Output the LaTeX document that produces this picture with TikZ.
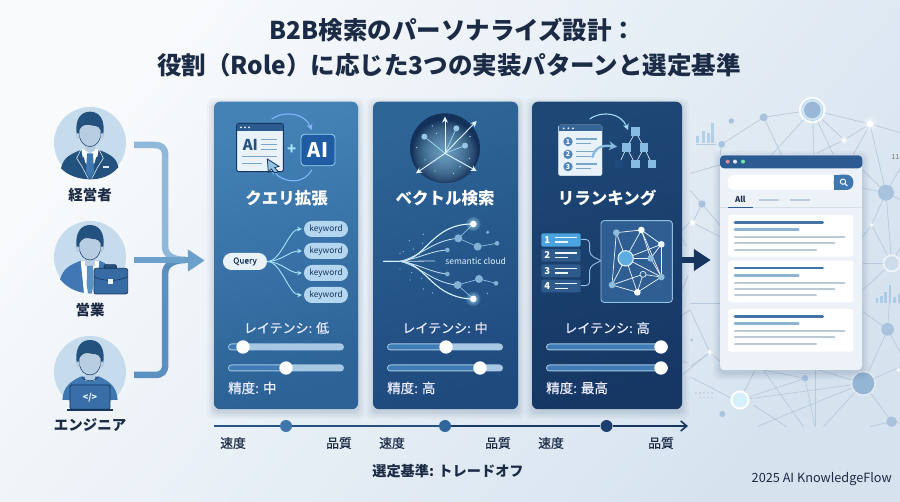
\documentclass[tikz,border=0pt]{standalone}
\usepackage{fontspec}
\setmainfont{Noto Sans CJK JP}
\newfontfamily\medfont[FakeBold=0.35]{Noto Sans CJK JP}
\usetikzlibrary{arrows.meta,calc,shapes.geometric}
\newcommand\fsz[1]{\fontsize{#1}{#1}\selectfont}
\definecolor{navyd}{HTML}{16365F}
\definecolor{navym}{HTML}{24527F}
\definecolor{inkd}{HTML}{1C2B45}
\definecolor{bluem}{HTML}{3F78B0}
\definecolor{bluel}{HTML}{8FBBDD}
\definecolor{cyanl}{HTML}{A6E2F8}
\definecolor{facec}{HTML}{B7CDE1}
\definecolor{circc}{HTML}{C6DCEC}
\definecolor{netl}{HTML}{B8CADB}
\definecolor{netn}{HTML}{A9C3DE}
\definecolor{trackc}{HTML}{A6C8E3}
\definecolor{trackf}{HTML}{3F7CB5}
\definecolor{glin}{HTML}{BCC9D6}
\definecolor{bgA}{HTML}{F8FAFC}
\definecolor{bgB}{HTML}{D6E3EF}
\definecolor{pAa}{HTML}{4482B6}
\definecolor{pAb}{HTML}{2C6296}
\definecolor{pBa}{HTML}{2E6597}
\definecolor{pBb}{HTML}{1F4A7E}
\definecolor{pCa}{HTML}{1E4776}
\definecolor{pCb}{HTML}{163764}
\definecolor{linkA}{HTML}{8FB8D9}
\definecolor{linkB}{HTML}{6D9FCB}
\definecolor{linkC}{HTML}{5B8FC0}
\definecolor{winhead}{HTML}{2C5B91}
\definecolor{docbg}{HTML}{E9F1F9}
\definecolor{aibox}{HTML}{1F5CA4}
\definecolor{rowA}{HTML}{4AA3DF}
\definecolor{rowB}{HTML}{2E5A8C}
\definecolor{netbox}{HTML}{2F5F92}
\definecolor{treeA}{HTML}{86BCE2}
\definecolor{kwb}{HTML}{B5D6EF}
\definecolor{barA}{HTML}{4474A6}
\definecolor{barB}{HTML}{8AB4D4}
\definecolor{suitB}{HTML}{3F78B4}
\definecolor{dotA}{HTML}{3D77AB}
\definecolor{dotB}{HTML}{2F669C}
\definecolor{dotC}{HTML}{1D3F6F}
\definecolor{cloudcol}{HTML}{DDF3FC}
\tikzset{
  zm/.style 2 args={shift={(#1,#2)},x=.33333pt,y=-.33333pt},
  panelbox/.style={draw=none,rounded corners=6pt,inner sep=0pt,minimum height=307.5pt},
  usercirc/.style={circle,fill=circc,inner sep=0pt,minimum size=72pt},
  ptitle/.style={text=white,font=\fsz{16.5}\bfseries,inner sep=0pt},
  mlabel/.style={text=white!93!blue,font=\fsz{13.5}\medfont,inner sep=0pt},
  ulabel/.style={text=inkd,font=\fsz{14.5}\bfseries,inner sep=0pt},
  tlabel/.style={text=inkd,font=\fsz{12.8}\medfont,inner sep=0pt},
  kwpill/.style={rounded corners=7.9pt,fill=#1,minimum width=44pt,minimum height=16pt,inner sep=0pt,text=navyd,font=\fsz{8.3}},
  flow/.style={draw=cyanl,line width=.9pt,-{Stealth[length=4.5pt,width=4.5pt]},shorten >=2pt},
  arcarrow/.style={draw=#1,line width=1.1pt,-{Stealth[length=6pt,width=6pt]}},
  netline/.style={draw=netl,line width=.7pt},
  rowbox/.style={rounded corners=1.5pt,fill=#1},
  axisdot/.style={circle,fill=#1,inner sep=0pt,minimum size=12pt},
}
\newcommand\uislider[4]{%
  \fill[trackc,rounded corners=3.5pt] (#1,#3-3.5) rectangle (#2,#3+3.5);
  \fill[trackf,rounded corners=2.5pt] (#1+1,#3-2.5) rectangle (#4,#3+2.5);
  \fill[white] (#4,#3) circle[radius=6.7];
}
\newcommand\glowdot[4]{%
  \foreach \gg in {2.2,1.9,1.6,1.35}{\fill[#4,opacity=.14] (#1,#2) circle[radius=\gg*#3];}
  \fill[white] (#1,#2) circle[radius=#3];
}
\newcommand\userhead{%
  \fill[facec] (-15,0) rectangle (15,28);
  \fill[navym] (-39,-22) .. controls (-48,-75) and (-25,-95) .. (0,-95) .. controls (25,-95) and (48,-75) .. (39,-22) -- (32,-18) -- (-32,-18) -- cycle;
  \filldraw[fill=facec,draw=navyd,line width=.5pt] (-33,-40) .. controls (-28,-52) and (-15,-60) .. (-2,-56) .. controls (10,-52) and (25,-58) .. (33,-40) .. controls (35,-5) and (15,10) .. (0,10) .. controls (-15,10) and (-35,-5) .. (-33,-40) -- cycle;
  \fill[facec] (-36,-22) ellipse[x radius=5,y radius=9];
  \fill[facec] (36,-22) ellipse[x radius=5,y radius=9];
}
\newcommand\softshadow[4]{%
  \foreach \ss in {7,5,3.5,2,1}{\fill[navyd,opacity=.03,rounded corners=6pt] (#1-\ss,#2-\ss+3) rectangle (#3+\ss,#4+\ss+3);}
}
\begin{document}
\begin{tikzpicture}[x=1pt,y=-1pt]
\useasboundingbox (0,0) rectangle (900,502);
\shade[top color=bgA,bottom color=bgB,shading angle=50] (-1,-1) rectangle (901,503);

% ---------- background network ----------
\begin{scope}[zm={690}{90}]
  \foreach \a/\b/\c/\d in {367/60/540/102,367/60/221/82,367/60/245/195,367/60/372/195,367/60/430/195,367/60/462/150,540/102/462/150,540/102/490/195,540/102/588/308,540/102/632/128,221/82/95/163,221/82/275/195,95/163/90/195,462/150/380/190,0/250/90/225,36/342/0/300,36/342/8/398,36/342/90/405,8/398/90/440,588/308/518/240,588/308/518/295,588/308/545/405,588/308/632/330,588/308/632/232,588/308/605/520,545/405/605/520,545/405/518/440,605/520/518/520,605/520/518/600,605/520/632/470,593/718/518/665,593/718/600/610,593/718/520/880,593/718/632/790,520/880/385/840,520/880/150/930,520/880/200/1010,520/880/605/995,520/880/400/1010,520/880/632/830,150/930/195/840,150/930/345/865,345/865/220/840,345/865/375/1010,220/840/340/1010,375/840/375/1010,0/660/60/787,60/787/0/830,60/787/120/840,0/860/125/925,190/945/290/1010,605/995/632/1000,605/995/540/1010,0/640/90/640}{
    \draw[netline] (\a,\b) -- (\c,\d);
  }
  \foreach \a/\b/\c/\d in {-45/445/0/395,-60/380/-10/470,-40/640/-5/555,-60/700/0/660,-55/800/-5/820,-30/860/60/787,-70/430/-30/480}{
    \draw[netline] (\a,\b) -- (\c,\d);
  }
  \foreach \x/\y/\r in {221/82/12,124/93/8,95/163/10,36/342/11,588/308/24,593/718/19,345/865/10,97/972/9,605/995/16}{
    \fill[netn] (\x,\y) circle[radius=\r];
  }
  \fill[white,opacity=.8] (367,60) circle[radius=40];
  \fill[netn!55!cyanl] (367,60) circle[radius=33];
  \fill[white,opacity=.5] (367,60) circle[radius=31];
  \fill[netn!85!bluem] (367,60) circle[radius=25];
  \foreach \x/\y/\r in {540/102/10,462/150/6,545/405/4,8/398/6,60/787/5,625/840/4}{\glowdot{\x}{\y}{\r}{white}}
  \fill[white,opacity=.6] (605,520) circle[radius=27];
  \fill[facec!70] (605,520) circle[radius=21];
  \fill[white,opacity=.35] (520,880) circle[radius=38];
  \fill[bluem!55] (520,880) circle[radius=33];
  \fill[white,opacity=.9] (150,930) circle[radius=29];
  \fill[cyanl!50!white] (150,930) circle[radius=22];
  \fill[netl!80!bluem] (5,750) circle[radius=4];
  \foreach \x/\y in {24/138,41/122,57/130,69/100}{\fill[bluel!70!white] (\x-5,158) rectangle (\x+3,\y);}
  \draw[netline] (18,162) -- (78,162);
  \foreach \x/\y in {561/625,575/618,587/605,601/585,614/620,627/612}{\fill[bluel!75!white] (\x-4,640) rectangle (\x+3,\y);}
  \foreach \x in {18,30,42,54,66}{\fill[netl] (\x,909) circle[radius=2.4];}
  \foreach \x in {30,42,54,66}{\fill[netl] (\x,923) circle[radius=2.4];}
  \node[text=black!55,font=\fsz{7},inner sep=0pt] (nbr) at (616,202) {11};
\end{scope}

% ---------- title ----------
\node[text=inkd,font=\fsz{24.5}\bfseries,inner sep=0pt] (title1) at (453,30) {B2B検索のパーソナライズ設計：};
\node[text=inkd,font=\fsz{24.5}\bfseries,inner sep=0pt] (title2) at (449,65) {役割（Role）に応じた3つの実装パターンと選定基準};

% ---------- panels ----------
\softshadow{214}{102}{358}{409}
\softshadow{373}{102}{518}{409}
\softshadow{532}{102}{682}{409}
\node[panelbox,minimum width=144pt,top color=pAa,bottom color=pAb,shading angle=15] (p1) at (286,255.5) {};
\node[panelbox,minimum width=145pt,top color=pBa,bottom color=pBb,shading angle=15] (p2) at (445.5,255.5) {};
\node[panelbox,minimum width=150pt,top color=pCa,bottom color=pCb,shading angle=15] (p3) at (607,255.5) {};

% ---------- users ----------
\node[usercirc] (u1) at (90,143) {};
\node[usercirc] (u2) at (90,257) {};
\node[usercirc] (u3) at (90,372) {};
\begin{scope}[zm={0}{90}]
  \begin{scope}[shift={(270,160)}]
    \fill[navym] (-87,75) .. controls (-80,45) and (-65,35) .. (-28,20) -- (28,20) .. controls (65,35) and (80,45) .. (85,72) .. controls (60,100) and (30,108) .. (0,108) .. controls (-30,108) and (-65,98) .. (-87,75) -- cycle;
    \fill[white] (-24,18) -- (24,18) -- (14,58) -- (0,75) -- (-14,58) -- cycle;
    \userhead
    \fill[white] (-26,16) -- (0,30) -- (26,16) -- (22,42) -- (0,32) -- (-22,42) -- cycle;
    \fill[bluem] (-9,30) -- (9,30) -- (12,85) -- (0,106) -- (-12,85) -- cycle;
    \draw[white!70!bluel,line width=.6pt] (-27,18) -- (-40,45) -- (-25,68) -- (-5,106);
    \draw[white!70!bluel,line width=.6pt] (27,18) -- (40,45) -- (25,68) -- (5,106);
    \fill[white!70!bluel] (40,68) rectangle (58,74);
  \end{scope}
  \begin{scope}[shift={(270,500)}]
    \fill[suitB] (-90,68) .. controls (-80,35) and (-60,25) .. (-28,12) -- (28,12) .. controls (50,20) and (70,35) .. (85,75) .. controls (60,100) and (30,110) .. (0,110) .. controls (-30,110) and (-65,98) .. (-90,68) -- cycle;
    \fill[white] (-28,12) -- (28,12) -- (18,110) -- (-18,110) -- cycle;
    \userhead
    \fill[suitB!75!cyanl] (-9,28) -- (9,28) -- (10,85) -- (6,110) -- (-6,110) -- (-10,85) -- cycle;
    \draw[fill=navym,draw=navyd,line width=.6pt,rounded corners=1.5pt] (42,36) rectangle (80,24);
    \filldraw[fill=suitB!80!navyd,draw=navyd,line width=.7pt,rounded corners=2pt] (12,35) rectangle (113,112);
    \draw[navyd,line width=.6pt] (12,60) .. controls (40,75) and (85,75) .. (113,60);
    \fill[white!85!bluel] (55,68) rectangle (70,82);
  \end{scope}
  \begin{scope}[shift={(270,845)}]
    \fill[bluem] (-83,85) .. controls (-80,45) and (-60,30) .. (-28,15) -- (28,15) .. controls (60,30) and (80,45) .. (83,85) -- cycle;
    \userhead
    \draw[navyd,line width=.6pt] (-25,15) .. controls (-15,32) and (15,32) .. (25,15);
    \filldraw[fill=suitB!85!navyd,draw=navyd,line width=.8pt,rounded corners=1.5pt] (-60,40) rectangle (60,113);
    \draw[navyd,line width=1.2pt] (-68,115) -- (68,115);
    \node[text=white!90!cyanl,font=\fsz{9}\bfseries,inner sep=0pt] (codetag) at (0,78) {</>};
  \end{scope}
\end{scope}
\node[ulabel] (lu1) at (90,195) {経営者};
\node[ulabel] (lu2) at (90,310) {営業};
\node[ulabel] (lu3) at (90,425) {エンジニア};

% connectors users -> panel 1
\draw[linkA,line width=6.5pt] ($(u1.east)+(8,2)$) -- ++(20,0) .. controls +(8,0) and +(0,-8) .. ++(11,11) -- ++(0,91) .. controls +(0,8) and +(-12,0) .. ++(20,13);
\draw[linkC,line width=6.5pt] ($(u3.east)+(8,3)$) -- ++(20,0) .. controls +(8,0) and +(0,8) .. ++(11,-11) -- ++(0,-91) .. controls +(0,-8) and +(-12,0) .. ++(20,-13);
\draw[linkB,line width=6pt,-{Triangle[length=17pt,width=21pt]},shorten >=9pt] ($(u2.east)+(8,3.5)$) -- ($(p1.west)+(0,5)$);

% ---------- panel 1 ----------
\node[ptitle] (t1) at (286.5,198) {クエリ拡張};
\begin{scope}[zm={210}{95}]
  \draw[arcarrow=cyanl!80!blue] (185,72) .. controls (225,45) and (285,55) .. (305,105);
  \draw[arcarrow=cyanl!80!blue] (305,225) .. controls (280,270) and (220,265) .. (185,222);
  \filldraw[fill=docbg,draw=navyd,line width=.9pt,rounded corners=1.5pt] (80,85) rectangle (220,230);
  \fill[winhead] (81,86) rectangle (219,108);
  \foreach \x in {93,105,117}{\fill[white!85!bluel] (\x,97) circle[radius=3];}
  \node[text=navym,font=\fsz{15}\bfseries,inner sep=0pt] (ai1) at (121,149) {AI};
  \foreach \y in {133,148,163}{\draw[bluel!80!navym,line width=1.2pt] (152,\y) -- (202,\y);}
  \foreach \y/\e in {185/200,205/155}{\draw[bluel!80!navym,line width=1.2pt] (97,\y) -- (\e,\y);}
  \filldraw[fill=bluel!80!cyanl,draw=navyd,line width=.8pt] (172,192) -- (175,232) -- (184,222) -- (194,234) -- (204,229) -- (194,218) -- (207,214) -- cycle;
  \node[text=cyanl,font=\fsz{15}\bfseries,inner sep=0pt] (plus) at (245,165) {+};
  \filldraw[fill=aibox,draw=cyanl!60!bluel,line width=.8pt,rounded corners=3.5pt] (273,118) rectangle (375,212);
  \node[text=white,font=\fsz{20}\bfseries,inner sep=0pt] (ai2) at (324,164) {AI};
\end{scope}
\node[rounded corners=8.4pt,fill=docbg,minimum width=44pt,minimum height=17pt,inner sep=0pt,text=navyd,font=\fsz{8.3}\medfont] (q) at (245,261.5) {Query};
\node[kwpill=kwb] (k1) at (326,229) {keyword};
\node[kwpill=kwb] (k2) at (326,251) {keyword};
\node[kwpill=kwb] (k3) at (326,273) {keyword};
\node[kwpill=kwb] (k4) at (326,295) {keyword};
\foreach \k in {k1,k2,k3,k4}{\draw[flow] (q.east) .. controls +(14,0) and +(-15,0) .. (\k.west);}
\node[mlabel,font=\fsz{13}\medfont] (l1) at (286.5,328) {レイテンシ: 低};
\uislider{228}{344}{347}{243}
\uislider{228}{344}{368}{286}
\node[mlabel,anchor=west] (m1) at (228,388) {精度: 中};

% ---------- panel 2 ----------
\node[ptitle] (t2) at (445,198) {ベクトル検索};
\begin{scope}[zm={370}{95}]
  \fill[pCb!90!black] (225,160) circle[radius=105];
  \foreach \r in {96,90,84,78,72,66,60,54,48,42,36,30,24,18,12,6}{\fill[cyanl!70!bluem,opacity=.085] (225,172) circle[radius=\r];}
  \foreach \x/\y in {187/93,140/158,195/228,250/235,270/215,298/190,300/125,200/115,165/195}{\fill[cyanl] (\x,\y) circle[radius=2];}
  \foreach \x/\y in {163/125,259/100,285/152}{\draw[cyanl!80!bluel,line width=.7pt] (225,175) -- (\x,\y);\fill[bluel!70!cyanl] (\x,\y) circle[radius=9];}
  \foreach \x/\y in {225/65,320/78,320/228,138/235}{\draw[white!70!cyanl,line width=.9pt,-{Stealth[length=6pt,width=6pt]}] (225,175) -- (\x,\y);}
  \foreach \x/\y in {118/437,160/418,100/470,130/462,90/475,148/478,90/522,125/533,120/555,155/550,160/582,188/594,158/445,352/412,352/595}{\fill[bluel] (\x,\y) circle[radius=2.2];}
  \foreach \a/\b/\c/\d in {310/387/265/430,265/430/323/455,323/455/381/445,310/612/263/570,263/570/327/552,327/552/378/565}{\draw[bluel,line width=.7pt] (\a,\b) -- (\c,\d);}
  \draw[cloudcol,line width=1.1pt] (40,499) -- (100,499) .. controls (170,485) and (190,385) .. (310,387);
  \draw[cloudcol,line width=1.1pt] (40,499) -- (100,499) .. controls (170,513) and (190,610) .. (310,612);
  \draw[cloudcol!80!bluel,line width=.8pt] (90,499) .. controls (150,485) and (190,435) .. (265,430);
  \draw[cloudcol!80!bluel,line width=.8pt] (90,499) .. controls (150,513) and (190,565) .. (263,570);
  \draw[cloudcol!70!bluel,line width=.8pt] (90,499) .. controls (150,490) and (180,468) .. (232,465);
  \draw[cloudcol!70!bluel,line width=.8pt] (90,499) .. controls (150,508) and (180,532) .. (232,537);
  \draw[cloudcol!70!bluel,line width=.8pt] (90,499) -- (195,498);
  \foreach \x/\y/\r in {265/430/12,323/455/12,381/445/7,353/412/5,232/465/7,232/537/7,263/570/12,327/552/12,378/565/7}{\fill[bluel!85!bluem] (\x,\y) circle[radius=\r];}
  \glowdot{310}{387}{10}{cyanl}
  \glowdot{310}{612}{10}{cyanl}
  \node[text=cloudcol,font=\fsz{8.5},inner sep=0pt] (sem) at (317,500) {semantic cloud};
\end{scope}
\node[mlabel,font=\fsz{13}\medfont] (l2) at (445,328) {レイテンシ: 中};
\uislider{387}{503}{347}{446}
\uislider{387}{503}{368}{480}
\node[mlabel,anchor=west] (m2) at (387,388) {精度: 高};

% ---------- panel 3 ----------
\node[ptitle] (t3) at (607,198) {リランキング};
\begin{scope}[zm={528}{95}]
  \draw[arcarrow=cyanl!80!bluel] (185,72) .. controls (225,45) and (280,55) .. (300,105);
  \filldraw[fill=docbg,draw=white!70!bluel,line width=.4pt,rounded corners=1.5pt] (92,90) rectangle (222,242);
  \fill[winhead!90!bluel] (93,91) rectangle (221,108);
  \foreach \x in {107,121,135}{\fill[white!85!bluel] (\x,100) circle[radius=3];}
  \foreach \y/\n in {140/1,178/2,215/3}{
    \fill[bluem!80!bluel] (120,\y) circle[radius=14];
    \node[text=white,font=\fsz{7}\bfseries,inner sep=0pt] (num\n) at (120,\y) {\n};
    \draw[bluel!80!navym,line width=1.1pt] (145,\y-8) -- (207,\y-8);
    \draw[bluel!80!navym,line width=1.1pt] (145,\y+6) -- (190,\y+6);
  }
  \draw[white!70!cyanl,line width=.6pt] (323,110) -- (296,158) (323,110) -- (348,158) (296,158) -- (273,207) (296,158) -- (322,207) (348,158) -- (322,207) (348,158) -- (372,207);
  \foreach \x/\y/\c in {323/110/treeA,296/158/treeA,348/158/treeA,273/207/pBb,322/207/treeA,372/207/treeA}{\fill[\c] (\x-13,\y-13) rectangle (\x+13,\y+13);}
  \draw[draw=treeA,line width=2.4pt,-{Stealth[length=8pt,width=9pt]}] (193,188) .. controls (200,155) and (225,150) .. (267,155);
  \draw[bluel!90!cyanl,line width=.9pt,rounded corners=4pt] (158,433) -| (185,480) -- (219,497);
  \draw[bluel!90!cyanl,line width=.9pt,rounded corners=4pt] (158,572) -| (185,515) -- (219,497);
  \foreach \ya/\yb/\c/\n in {415/455/rowA/1,462/500/rowB/2,508/547/rowB/3,554/592/rowB/4}{
    \fill[rowbox=\c] (40,\ya) rectangle (158,\yb);
    \node[text=white,font=\fsz{9.5}\bfseries,inner sep=0pt] (row\n) at (58,{(\ya+\yb)/2}) {\n};
    \draw[white!85!bluel,line width=1.1pt] (80,\ya+12) -- (148,\ya+12);
    \draw[white!85!bluel,line width=1.1pt] (80,\ya+26) -- (120,\ya+26);
  }
  \filldraw[fill=netbox,draw=bluel!90!cyanl,line width=.9pt,rounded corners=3pt] (219,377) rectangle (433,622);
  \foreach \a/\b/\c/\d in {265/413/340/405,340/405/400/448,400/448/368/490,400/448/400/546,400/546/328/592,328/592/252/570,252/570/265/413,293/490/265/413,293/490/340/405,293/490/400/448,293/490/368/490,293/490/400/546,293/490/328/592,293/490/252/570,340/405/368/490,368/490/400/546,252/570/345/538,345/538/400/546,345/538/328/592,340/405/400/546}{\draw[white!85!bluel,line width=.7pt] (\a,\b) -- (\c,\d);}
  \foreach \x/\y/\c in {265/413/bluel,340/405/white,400/448/white!85!bluel,368/490/bluel,400/546/bluel,328/592/white,252/570/bluel}{\fill[\c] (\x,\y) circle[radius=10];}
  \filldraw[fill=netbox,draw=white!80!bluel,line width=.7pt] (345,538) circle[radius=9];
  \filldraw[fill=rowA!90!white,draw=white!85!bluel,line width=1pt] (293,490) circle[radius=23];
\end{scope}
\node[mlabel,font=\fsz{13}\medfont] (l3) at (607,328) {レイテンシ: 高};
\uislider{546}{668}{347}{661}
\uislider{546}{668}{368}{661}
\node[mlabel,anchor=west] (m3) at (546,388) {精度: 最高};

% ---------- browser ----------
\softshadow{720}{155}{862}{370}
\node[fill=white!75!facec,rounded corners=4pt,minimum width=142pt,minimum height=215pt,inner sep=0pt] (browser) at (791,262.5) {};
\draw[navyd,line width=6pt,-{Triangle[length=17pt,width=21pt]},shorten >=9pt] ($(p3.east)+(0,4.5)$) -- ($(browser.west)+(0,-2.5)$);
\begin{scope}[zm={690}{90}]
  \fill[winhead,rounded corners=4pt] (90,235) -- (90,196) -- (517,196) -- (517,235) -- cycle;
  \foreach \x/\c in {113/pink!70!purple,135/white!70!bluel,159/green!40!cyanl}{\fill[\c] (\x,215) circle[radius=6];}
  \fill[white,rounded corners=7pt] (113,254) rectangle (440,300);
  \fill[bluem,rounded corners=7pt] (431,254) rectangle (490,300);
  \fill[bluem] (431,254) rectangle (450,300);
  \draw[white,line width=.9pt] (459,275) circle[radius=8];
  \draw[white,line width=1.1pt] (465,281) -- (472,288);
  \node[text=inkd,font=\fsz{8}\bfseries,inner sep=0pt] (tabAll) at (151,329) {All};
  \draw[glin!60,line width=.5pt] (90,353) -- (517,353);
  \draw[winhead,line width=1pt] (114,352) -- (188,352);
  \fill[glin] (208,326) rectangle (268,333);
  \fill[glin] (299,326) rectangle (360,333);
  \foreach \t/\bt in {375/500,512/637,657/785}{
    \fill[white,rounded corners=3pt] (114,\t) rectangle (490,\bt);
    \draw[barA,line width=2.6pt,line cap=round] (135,\t+22) -- (398,\t+22);
    \draw[barB,line width=2.6pt,line cap=round] (135,\t+44) -- (325,\t+44);
    \draw[glin,line width=2.1pt,line cap=round] (135,\t+67) -- (463,\t+67);
    \draw[glin,line width=2.1pt,line cap=round] (135,\t+85) -- (433,\t+85);
    \draw[glin,line width=2.1pt,line cap=round] (135,\t+104) -- (378,\t+104);
  }
\end{scope}

% ---------- axis ----------
\node[axisdot=dotA] (d1) at (286,426) {};
\node[axisdot=dotB] (d2) at (445,426) {};
\node[axisdot=dotC] (d3) at (606.5,426) {};
\coordinate (ax0) at (214,426);
\coordinate (ax1) at (688,426);
\draw[navym!90!bluem,line width=1.5pt] (ax0) -- (d1);
\draw[navym,line width=1.5pt] (d1) -- (d2);
\draw[navyd!80!navym,line width=1.5pt] (d2) -- (d3);
\draw[navyd,line width=1.5pt,-{Straight Barb[length=6pt,width=10pt,line width=1.6pt]}] (d3) -- (ax1);
\node[tlabel] (s1) at (233,443) {速度};
\node[tlabel] (q1) at (339,443) {品質};
\node[tlabel] (s2) at (392,443) {速度};
\node[tlabel] (q2) at (498,443) {品質};
\node[tlabel] (s3) at (551,443) {速度};
\node[tlabel] (q3) at (661,443) {品質};
\node[text=inkd,font=\fsz{14.2}\bfseries,inner sep=0pt] (crit) at (448,471) {選定基準: トレードオフ};
\node[anchor=east,text=inkd,font=\fsz{12.7},inner sep=0pt] (foot) at (892,479) {2025 AI KnowledgeFlow};
\end{tikzpicture}
\end{document}
